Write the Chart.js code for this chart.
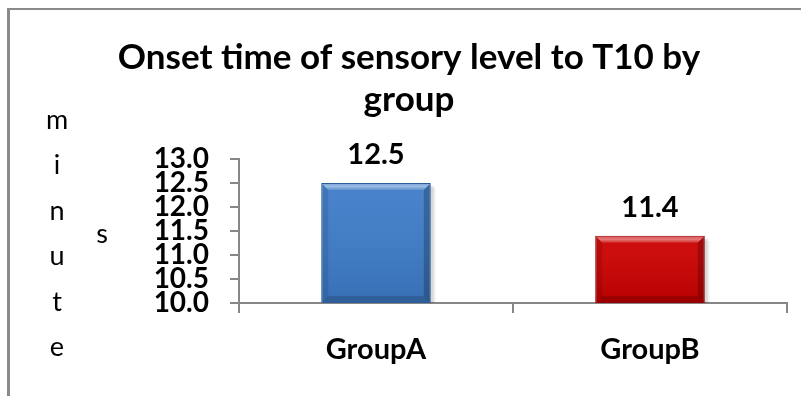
<!DOCTYPE html>
<html>
<head>
<meta charset="utf-8">
<script src="https://cdn.jsdelivr.net/npm/chart.js@4/dist/chart.umd.min.js"></script>
<style>
  html, body { margin: 0; padding: 0; background: #fff; }
  #chart { display: block; }
</style>
</head>
<body>
<canvas id="chart" width="801" height="396"></canvas>
<script>
// Onset time (minutes) of sensory block reaching T10, per study group
const categories = ['GroupA', 'GroupB'];
const onsetMinutes = [12.5, 11.4];
const tickValues = [10.0, 10.5, 11.0, 11.5, 12.0, 12.5, 13.0];
const titleLines = ['Onset time of sensory level to T10 by', 'group'];
const yTitleColumn = ['m', 'i', 'n', 'u', 't', 'e'];
const yTitleTail = 's';

const barFill = ['#3d7cc9', '#cc0000'];
const barEdge = ['#2a5a95', '#8a0000'];
const axisGray = '#878787';
const FONT = 'Lato, "Open Sans", sans-serif';

// White page with the grey frame on the left and top edges
const framePlugin = {
  id: 'frame',
  beforeDraw(chart) {
    const ctx = chart.ctx;
    ctx.save();
    ctx.fillStyle = '#fff';
    ctx.fillRect(0, 0, chart.width, chart.height);
    ctx.fillStyle = '#8a8a8a';
    ctx.fillRect(7, 8, chart.width - 7, 2);
    ctx.fillRect(7, 8, 3, chart.height - 8);
    ctx.restore();
  }
};

// Bar rectangle in pixels, cut at the bottom of the plot area
function barBox(chart, bar) {
  const bottom = Math.min(bar.base, chart.chartArea.bottom);
  return { l: bar.x - bar.width / 2, r: bar.x + bar.width / 2, t: bar.y, b: bottom };
}

// Soft drop shadow behind each bar
const shadowPlugin = {
  id: 'barShadow',
  beforeDatasetsDraw(chart) {
    const ctx = chart.ctx;
    const meta = chart.getDatasetMeta(0);
    ctx.save();
    meta.data.forEach(bar => {
      const { l, r, t, b } = barBox(chart, bar);
      ctx.fillStyle = 'rgba(0,0,0,0.10)';
      ctx.fillRect(l + 3, t + 3, r - l, b - t - 3);
      ctx.fillStyle = 'rgba(0,0,0,0.05)';
      ctx.fillRect(l + 5, t + 5, r - l, b - t - 5);
    });
    ctx.restore();
  }
};

// Bevelled edges on the bars plus the value above each one
const bevelPlugin = {
  id: 'bevel',
  afterDatasetsDraw(chart) {
    const ctx = chart.ctx;
    const meta = chart.getDatasetMeta(0);
    const ds = chart.data.datasets[0];
    ctx.save();
    meta.data.forEach((bar, i) => {
      const { l, r, t, b } = barBox(chart, bar);
      const e = 7;
      // face shading: slightly lighter at the top, darker at the bottom
      const g = ctx.createLinearGradient(0, t, 0, b);
      g.addColorStop(0, 'rgba(255,255,255,0.06)');
      g.addColorStop(1, 'rgba(0,0,0,0.10)');
      ctx.fillStyle = g;
      ctx.fillRect(l + 1, t + 1, r - l - 2, b - t - 1);
      // top highlight
      const gt = ctx.createLinearGradient(0, t, 0, t + e);
      gt.addColorStop(0, 'rgba(255,255,255,0.25)');
      gt.addColorStop(0.5, 'rgba(255,255,255,0.45)');
      gt.addColorStop(1, 'rgba(255,255,255,0.10)');
      ctx.fillStyle = gt;
      ctx.beginPath();
      ctx.moveTo(l + 1, t + 1); ctx.lineTo(r - 1, t + 1);
      ctx.lineTo(r - e, t + e); ctx.lineTo(l + e, t + e);
      ctx.closePath(); ctx.fill();
      // left edge
      ctx.fillStyle = 'rgba(0,0,0,0.10)';
      ctx.beginPath();
      ctx.moveTo(l + 1, t + 1); ctx.lineTo(l + e, t + e);
      ctx.lineTo(l + e, b - e); ctx.lineTo(l + 1, b);
      ctx.closePath(); ctx.fill();
      // right edge
      ctx.fillStyle = 'rgba(0,0,0,0.22)';
      ctx.beginPath();
      ctx.moveTo(r - 1, t + 1); ctx.lineTo(r - e, t + e);
      ctx.lineTo(r - e, b - e); ctx.lineTo(r - 1, b);
      ctx.closePath(); ctx.fill();
      // bottom edge
      ctx.fillStyle = 'rgba(0,0,0,0.16)';
      ctx.beginPath();
      ctx.moveTo(l + 1, b); ctx.lineTo(l + e, b - e);
      ctx.lineTo(r - e, b - e); ctx.lineTo(r - 1, b);
      ctx.closePath(); ctx.fill();

      // value label
      ctx.fillStyle = '#000';
      ctx.font = 'bold 29px ' + FONT;
      ctx.textAlign = 'center';
      ctx.textBaseline = 'alphabetic';
      ctx.fillText(ds.data[i].toFixed(1), bar.x, t - 19);
    });
    ctx.restore();
  }
};

// Axis title for the value axis, set as a stacked column of letters
const yTitlePlugin = {
  id: 'yTitle',
  afterDraw(chart) {
    const ctx = chart.ctx;
    const area = chart.chartArea;
    const mid = (area.top + area.bottom) / 2 + 3;
    const step = 45.5;
    ctx.save();
    ctx.fillStyle = '#000';
    ctx.font = '27px ' + FONT;
    ctx.textAlign = 'center';
    ctx.textBaseline = 'middle';
    const x = area.left - 182;
    yTitleColumn.forEach((ch, i) => {
      const y = mid + (i - (yTitleColumn.length - 1) / 2) * step;
      ctx.fillText(ch, x, y);
    });
    ctx.fillText(yTitleTail, area.left - 137, mid);
    ctx.restore();
  }
};

new Chart(document.getElementById('chart'), {
  type: 'bar',
  data: {
    labels: categories,
    datasets: [{
      data: onsetMinutes,
      backgroundColor: barFill,
      borderColor: barEdge,
      borderWidth: 1,
      borderSkipped: false,
      barPercentage: 0.4,
      categoryPercentage: 1.0
    }]
  },
  options: {
    responsive: false,
    devicePixelRatio: 1,
    animation: false,
    layout: { padding: { left: 31, right: 14, top: 0, bottom: 0 } },
    plugins: {
      legend: { display: false },
      tooltip: { enabled: false },
      title: {
        display: true,
        text: titleLines,
        color: '#000',
        font: { family: FONT, weight: 'bold', size: 35, lineHeight: 1.2 },
        padding: { top: 37, bottom: 38 }
      }
    },
    scales: {
      x: {
        grid: {
          display: true,
          drawOnChartArea: false,
          drawTicks: true,
          tickLength: 10,
          color: axisGray,
          lineWidth: 2,
          offset: true
        },
        border: { color: axisGray, width: 2 },
        ticks: {
          color: '#000',
          font: { family: FONT, weight: 'bold', size: 29 },
          padding: 19
        },
        afterFit(scale) { scale.height = 93; }
      },
      y: {
        min: 10,
        max: 13,
        afterBuildTicks(scale) {
          scale.ticks = tickValues.map(v => ({ value: v }));
        },
        ticks: {
          color: '#000',
          font: { family: FONT, weight: 'bold', size: 28 },
          padding: 21,
          autoSkip: false,
          callback: v => Number(v).toFixed(1)
        },
        grid: {
          drawOnChartArea: false,
          drawTicks: true,
          tickLength: 9,
          color: axisGray,
          lineWidth: 2
        },
        border: { color: axisGray, width: 2 },
        afterFit(scale) { scale.width = 208; }
      }
    }
  },
  plugins: [framePlugin, shadowPlugin, bevelPlugin, yTitlePlugin]
});
</script>
</body>
</html>
